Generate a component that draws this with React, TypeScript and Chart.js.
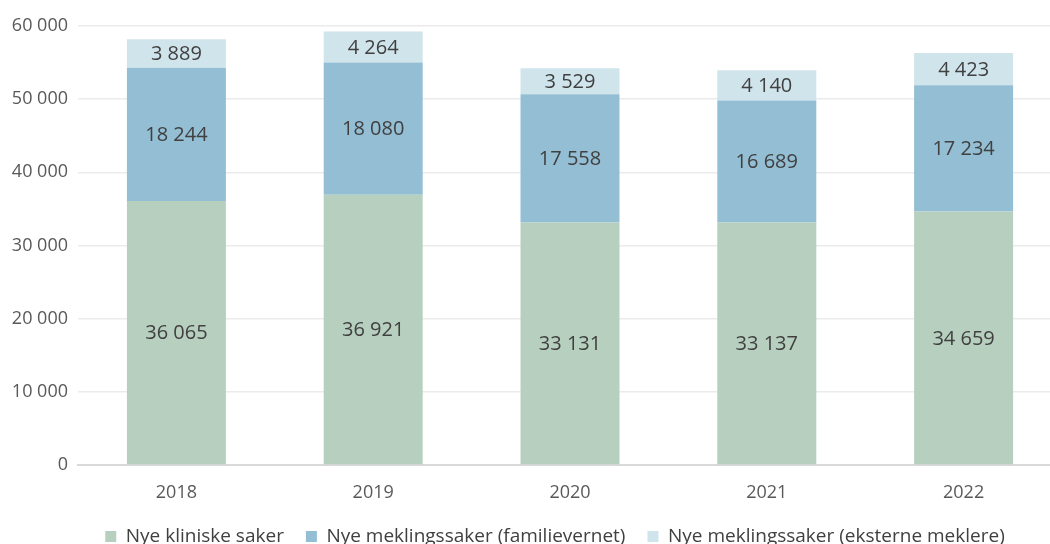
import React, { useEffect, useRef } from "react";
import { Chart, registerables } from "chart.js";

Chart.register(...registerables);

const categories = ["2018", "2019", "2020", "2021", "2022"];
const kliniske = [36065, 36921, 33131, 33137, 34659];
const familievernet = [18244, 18080, 17558, 16689, 17234];
const eksterne = [3889, 4264, 3529, 4140, 4423];
const seriesNames = [
  "Nye kliniske saker",
  "Nye meklingssaker (familievernet)",
  "Nye meklingssaker (eksterne meklere)",
];
const yTicks = [0, 10000, 20000, 30000, 40000, 50000, 60000];

const FONT = "'Open Sans', sans-serif";

const fmt = (v: number) => {
  const s = Math.round(v).toString();
  return s.replace(/\B(?=(\d{3})+(?!\d))/g, " ");
};

const labelPlugin = {
  id: "segLabels",
  afterDatasetsDraw(chart: any) {
    const ctx = chart.ctx;
    ctx.save();
    ctx.font = `20px ${FONT}`;
    ctx.fillStyle = "#404040";
    ctx.textAlign = "center";
    ctx.textBaseline = "middle";
    chart.data.datasets.forEach((ds: any, di: number) => {
      const meta = chart.getDatasetMeta(di);
      meta.data.forEach((bar: any, i: number) => {
        const y = (bar.y + bar.base) / 2;
        ctx.fillText(fmt(ds.data[i]), bar.x, y + 1);
      });
    });
    ctx.restore();
  },
};

export default function App() {
  const ref = useRef<HTMLCanvasElement>(null);
  useEffect(() => {
    document.body.style.overflow = "hidden";
    const chart = new Chart(ref.current!, {
      type: "bar",
      data: {
        labels: categories,
        datasets: [
          { label: seriesNames[0], data: kliniske, backgroundColor: "#b7cfbf" },
          { label: seriesNames[1], data: familievernet, backgroundColor: "#93bed3" },
          { label: seriesNames[2], data: eksterne, backgroundColor: "#d0e4ec" },
        ],
      },
      options: {
        responsive: false,
        animation: false,
        layout: { padding: { top: 26, right: 0, left: 0, bottom: 0 } },
        datasets: { bar: { categoryPercentage: 1, barPercentage: 0.503 } },
        scales: {
          x: {
            stacked: true,
            grid: { display: false },
            border: { color: "#d9d9d9", width: 2 },
            ticks: { color: "#595959", font: { family: FONT, size: 18 }, padding: 9 },
            afterFit: (s: any) => { s.height = 40; },
          },
          y: {
            stacked: true,
            min: 0,
            max: 60000,
            afterBuildTicks: (s: any) => { s.ticks = yTicks.map((v) => ({ value: v })); },
            grid: { color: "#ebebeb", lineWidth: 1.5, drawTicks: false },
            border: { display: false },
            ticks: {
              color: "#595959",
              font: { family: FONT, size: 18 },
              padding: 10,
              callback: (v: any) => fmt(Number(v)),
            },
            afterFit: (s: any) => { s.width = 78; },
          },
          yRight: {
            position: "right",
            min: 0,
            max: 60000,
            grid: { display: false, drawTicks: false },
            border: { display: false },
            ticks: { display: false },
            afterFit: (s: any) => { s.width = 48; },
          },
        },
        plugins: {
          legend: {
            position: "bottom",
            labels: {
              color: "#404040",
              font: { family: FONT, size: 19 },
              boxWidth: 11,
              boxHeight: 11,
              padding: 22,
            },
          },
          tooltip: { enabled: false },
        },
      },
      plugins: [labelPlugin],
    });
    return () => chart.destroy();
  }, []);
  return (
    <div style={{ position: "absolute", left: 0, top: 0, width: 1050, height: 544, overflow: "hidden" }}>
      <canvas ref={ref} width={1110} height={556} />
    </div>
  );
}
